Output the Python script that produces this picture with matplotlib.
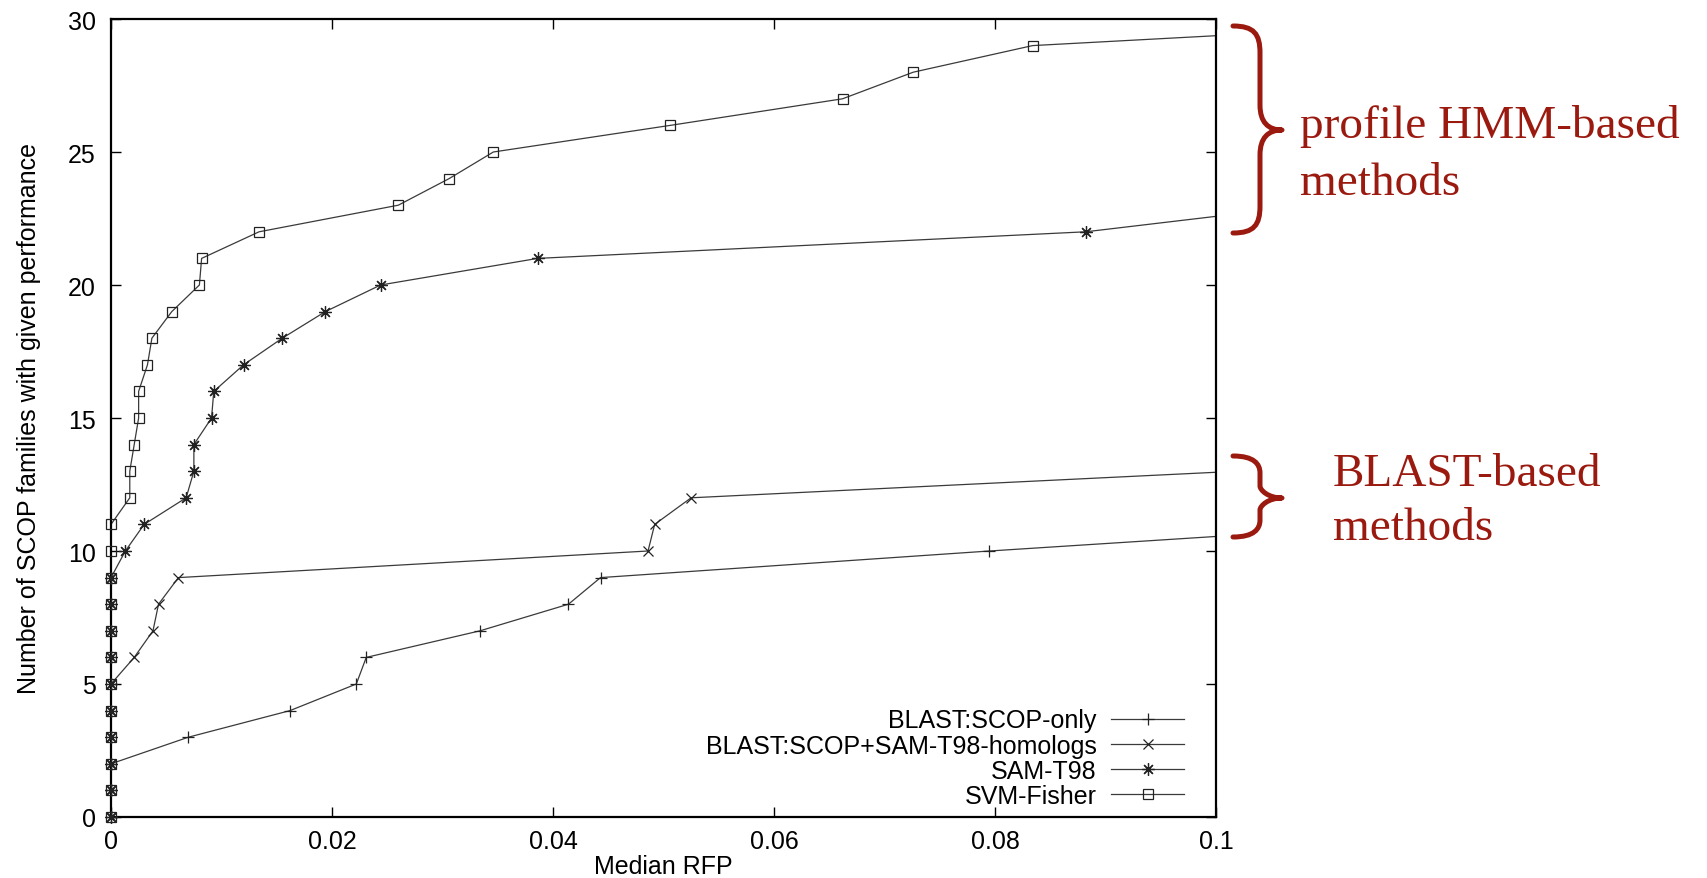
import numpy as np
import matplotlib
matplotlib.use("Agg")
import matplotlib.pyplot as plt
from matplotlib.lines import Line2D
from matplotlib.path import Path
from matplotlib.patches import PathPatch

# median RFP at which each count of families is reached
blast_x = [0, 0, 0, 0.0070, 0.0162, 0.0222, 0.0231, 0.0334, 0.0414, 0.0443, 0.0795, 0.1170]
blast_y = [0, 1, 2, 3, 4, 5, 6, 7, 8, 9, 10, 11]

homol_x = [0, 0, 0, 0, 0, 0, 0.0021, 0.0038, 0.0043, 0.0061, 0.0486, 0.0492, 0.0525, 0.1020]
homol_y = [0, 1, 2, 3, 4, 5, 6, 7, 8, 9, 10, 11, 12, 13]

sam_x = [0, 0, 0, 0, 0, 0, 0, 0, 0, 0, 0.0013, 0.0030, 0.0068, 0.0075, 0.0075,
         0.0091, 0.0093, 0.0120, 0.0155, 0.0194, 0.0244, 0.0386, 0.0882, 0.1085]
sam_y = [0, 1, 2, 3, 4, 5, 6, 7, 8, 9, 10, 11, 12, 13, 14, 15, 16, 17, 18, 19,
         20, 21, 22, 23]

svm_x = [0, 0, 0, 0, 0, 0, 0, 0, 0, 0, 0, 0, 0.0017, 0.0017, 0.0021, 0.0025,
         0.0025, 0.0033, 0.0037, 0.0055, 0.0080, 0.0082, 0.0134, 0.0260, 0.0306,
         0.0346, 0.0506, 0.0662, 0.0726, 0.0834, 0.1280]
svm_y = [0, 1, 2, 3, 4, 5, 6, 7, 8, 9, 10, 11, 12, 13, 14, 15, 16, 17, 18, 19,
         20, 21, 22, 23, 24, 25, 26, 27, 28, 29, 30]

labels = ["BLAST:SCOP-only", "BLAST:SCOP+SAM-T98-homologs", "SAM-T98", "SVM-Fisher"]
xticks = [0, 0.02, 0.04, 0.06, 0.08, 0.1]
xticklabels = ["0", "0.02", "0.04", "0.06", "0.08", "0.1"]
yticks = [0, 5, 10, 15, 20, 25, 30]

W, H = 1707, 879
plt.rcParams['font.family'] = ['Liberation Sans', 'DejaVu Sans']

fig = plt.figure(figsize=(W / 100, H / 100), dpi=100)
ax = fig.add_axes([111 / W, 1 - 818 / H, 1105 / W, 798 / H])

lc = '#3a3a3a'
series = [(blast_x, blast_y, '+', 9), (homol_x, homol_y, 'x', 7),
          (sam_x, sam_y, (8, 2, 0), 9), (svm_x, svm_y, 's', 7)]
handles = []
for (xs, ys, mk, ms), lab in zip(series, labels):
    xs = np.array(xs)
    ys = np.array(ys)
    ax.plot(xs, ys, '-', color=lc, lw=0.9)
    keep = xs <= 0.1
    kw = dict(marker=mk, markersize=ms, markeredgewidth=0.9, markeredgecolor='#222222')
    if mk == 's':
        kw['markerfacecolor'] = 'none'
    ax.plot(xs[keep], ys[keep], linestyle='none', clip_on=False, zorder=3, **kw)
    handles.append(Line2D([], [], color=lc, lw=0.9, **kw))

ax.set_xlim(0, 0.1)
ax.set_ylim(0, 30)
ax.set_xticks(xticks)
ax.set_xticklabels(xticklabels)
ax.set_yticks(yticks)
ax.tick_params(direction='in', length=7, width=1, top=True, right=True,
               labelsize=18, color='black')
ax.tick_params(axis='y', pad=11)
ax.tick_params(axis='x', pad=9)
for sp in ax.spines.values():
    sp.set_linewidth(1.6)
    sp.set_color('black')

ax.set_xlabel("Median RFP", fontsize=18)
ax.set_ylabel("Number of SCOP families with given performance", fontsize=18)
ax.xaxis.set_label_coords(0.5, -0.046)
ax.yaxis.set_label_coords(-0.063, 0.5)

ax.legend(handles, labels, loc='lower right', bbox_to_anchor=(0.971, 0.011),
          frameon=False, markerfirst=False, fontsize=18, handlelength=2.9,
          handletextpad=0.6, labelspacing=0.05, borderpad=0, borderaxespad=0,
          numpoints=1)

# red braces and notes on the right
red = '#9b1a10'


def brace(x0, x1, x2, top, mid, bot, r_end, r_mid):
    pts = [(x0, top), (x1 - 6, top), (x1, top + 8), (x1, top + r_end),
           (x1, mid - r_mid),
           (x1, mid - 8), (x1 + 8, mid), (x2, mid),
           (x1 + 8, mid), (x1, mid + 8), (x1, mid + r_mid),
           (x1, bot - r_end),
           (x1, bot - 8), (x1 - 6, bot), (x0, bot)]
    codes = [Path.MOVETO, Path.CURVE4, Path.CURVE4, Path.CURVE4,
             Path.LINETO,
             Path.CURVE4, Path.CURVE4, Path.CURVE4,
             Path.CURVE4, Path.CURVE4, Path.CURVE4,
             Path.LINETO,
             Path.CURVE4, Path.CURVE4, Path.CURVE4]
    verts = [(px / W, 1 - py / H) for px, py in pts]
    fig.add_artist(PathPatch(Path(verts, codes), transform=fig.transFigure,
                             fill=False, edgecolor=red, lw=3.6,
                             capstyle='round', joinstyle='round'))


brace(1233, 1260, 1282, 27, 131, 234, 27, 25)
brace(1233, 1260, 1282, 457, 499, 538, 17, 12)

serif = ['Liberation Serif', 'DejaVu Serif']
fig.text(1300 / W, 1 - 138 / H, "profile HMM-based", color=red, fontsize=34,
         family=serif, va='baseline')
fig.text(1300 / W, 1 - 195 / H, "methods", color=red, fontsize=34,
         family=serif, va='baseline')
fig.text(1333 / W, 1 - 486 / H, "BLAST-based", color=red, fontsize=34,
         family=serif, va='baseline')
fig.text(1333 / W, 1 - 540 / H, "methods", color=red, fontsize=34,
         family=serif, va='baseline')

fig.savefig("out.png", dpi=100)
